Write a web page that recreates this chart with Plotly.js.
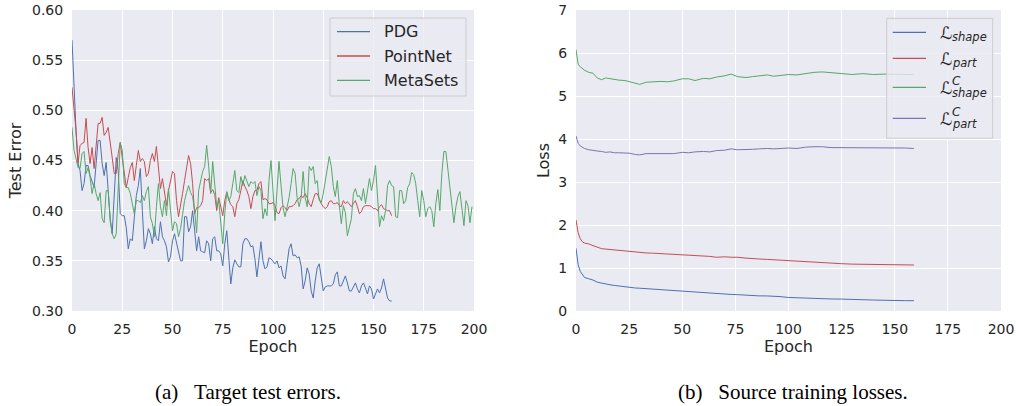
<!DOCTYPE html>
<html>
<head>
<meta charset="utf-8">
<script src="https://cdn.plot.ly/plotly-3.0.1.min.js"></script>
<style>html,body{margin:0;padding:0;background:#fff;}#chart{width:1016px;height:406px;}</style>
</head>
<body>
<div id="chart"></div>
<script>
// ---------- (a) Target test errors (one value per epoch, starting at epoch 0) ----------
const seriesNamesA = ["PDG", "PointNet", "MetaSets"];
const pdgErr = [
0.57,0.52,0.48,0.447,0.44,0.42,0.427,0.445,0.445,0.435,
0.43,0.423,0.447,0.47,0.47,0.447,0.435,0.448,0.42,0.39,
0.377,0.41,0.453,0.44,0.397,0.395,0.395,0.383,0.362,0.372,
0.37,0.393,0.415,0.425,0.442,0.40,0.362,0.37,0.382,0.377,
0.367,0.384,0.372,0.37,0.389,0.374,0.37,0.364,0.349,0.354,
0.37,0.377,0.367,0.357,0.35,0.35,0.394,0.394,0.379,0.384,
0.40,0.38,0.36,0.374,0.36,0.359,0.358,0.37,0.367,0.35,
0.372,0.374,0.36,0.36,0.357,0.345,0.367,0.38,0.353,0.327,
0.343,0.351,0.347,0.344,0.344,0.367,0.372,0.372,0.369,0.364,
0.365,0.352,0.334,0.354,0.369,0.35,0.342,0.344,0.353,0.352,
0.35,0.347,0.35,0.343,0.345,0.335,0.332,0.345,0.362,0.367,
0.355,0.356,0.353,0.354,0.345,0.322,0.33,0.343,0.337,0.32,
0.313,0.33,0.343,0.347,0.335,0.32,0.324,0.325,0.325,0.325,
0.327,0.336,0.339,0.325,0.325,0.33,0.335,0.328,0.32,0.32,
0.325,0.328,0.322,0.318,0.325,0.328,0.323,0.317,0.325,0.322,
0.312,0.318,0.322,0.318,0.323,0.332,0.323,0.313,0.31,0.31
];
const pointnetErr = [
0.523,0.50,0.48,0.447,0.465,0.467,0.468,0.492,0.463,0.447,
0.463,0.442,0.465,0.487,0.487,0.493,0.475,0.478,0.483,0.47,
0.453,0.437,0.437,0.457,0.468,0.453,0.437,0.423,0.433,0.443,
0.448,0.43,0.445,0.46,0.449,0.452,0.449,0.434,0.437,0.45,
0.457,0.449,0.464,0.444,0.422,0.432,0.42,0.405,0.42,0.43,
0.439,0.437,0.41,0.394,0.404,0.417,0.43,0.444,0.455,0.447,
0.427,0.397,0.403,0.403,0.405,0.41,0.432,0.43,0.432,0.418,
0.421,0.416,0.40,0.413,0.404,0.395,0.41,0.418,0.411,0.406,
0.404,0.394,0.407,0.411,0.42,0.43,0.424,0.42,0.414,0.402,
0.414,0.42,0.42,0.427,0.429,0.411,0.412,0.411,0.407,0.407,
0.408,0.405,0.398,0.397,0.403,0.405,0.403,0.40,0.404,0.404,
0.405,0.407,0.411,0.412,0.415,0.413,0.417,0.413,0.407,0.404,
0.411,0.417,0.417,0.412,0.407,0.404,0.402,0.404,0.409,0.41,
0.407,0.407,0.408,0.405,0.404,0.41,0.407,0.409,0.407,0.404,
0.407,0.41,0.404,0.397,0.399,0.404,0.405,0.405,0.405,0.404,
0.402,0.402,0.40,0.404,0.406,0.402,0.401,0.40,0.40,0.395
];
const metasetsErr = [
0.483,0.46,0.452,0.443,0.442,0.457,0.459,0.437,0.443,0.433,
0.417,0.427,0.417,0.41,0.418,0.392,0.388,0.42,0.42,0.393,
0.377,0.372,0.377,0.42,0.468,0.46,0.427,0.423,0.423,0.417,
0.408,0.397,0.41,0.41,0.408,0.415,0.41,0.419,0.424,0.394,
0.387,0.374,0.404,0.427,0.404,0.394,0.41,0.395,0.422,0.404,
0.38,0.389,0.387,0.374,0.382,0.396,0.41,0.418,0.425,0.418,
0.414,0.40,0.378,0.42,0.429,0.439,0.444,0.465,0.444,0.417,
0.449,0.427,0.404,0.41,0.39,0.367,0.397,0.419,0.41,0.414,
0.427,0.44,0.42,0.418,0.434,0.425,0.435,0.43,0.424,0.429,
0.427,0.429,0.415,0.424,0.42,0.392,0.402,0.395,0.43,0.45,
0.423,0.39,0.42,0.449,0.425,0.403,0.394,0.403,0.413,0.427,
0.442,0.437,0.413,0.404,0.413,0.439,0.413,0.404,0.444,0.44,
0.444,0.427,0.43,0.41,0.408,0.417,0.43,0.444,0.454,0.444,
0.424,0.414,0.43,0.405,0.387,0.405,0.398,0.375,0.385,0.392,
0.417,0.422,0.414,0.415,0.41,0.422,0.407,0.418,0.432,0.42,
0.43,0.445,0.41,0.384,0.395,0.39,0.40,0.425,0.43,0.425,
0.424,0.394,0.393,0.42,0.42,0.407,0.41,0.423,0.427,0.438,
0.436,0.427,0.41,0.394,0.42,0.41,0.394,0.402,0.404,0.40,
0.384,0.407,0.421,0.40,0.437,0.459,0.459,0.44,0.42,0.404,
0.388,0.404,0.414,0.419,0.404,0.385,0.41,0.405,0.388,0.404
];

// ---------- (b) Source training losses (read at these epochs) ----------
const lossEpochs = [0,1,2,3,4,6,8,10,12,14,16,18,20,23,25,28,30,33,36,40,43,46,50,53,56,60,63,66,70,73,76,80,83,86,90,93,96,100,104,108,112,116,120,125,130,135,140,145,150,155,159];
const lossShape = [1.46,1.08,0.92,0.84,0.78,0.75,0.72,0.67,0.645,0.625,0.61,0.595,0.58,0.565,0.55,0.535,0.53,0.52,0.505,0.49,0.478,0.465,0.45,0.44,0.43,0.415,0.41,0.40,0.395,0.385,0.38,0.365,0.355,0.352,0.35,0.345,0.335,0.315,0.305,0.30,0.292,0.285,0.28,0.277,0.265,0.26,0.255,0.25,0.24,0.24,0.24];
const lossPart = [2.12,1.82,1.68,1.61,1.58,1.56,1.52,1.48,1.45,1.44,1.43,1.42,1.40,1.39,1.385,1.37,1.36,1.35,1.345,1.335,1.33,1.32,1.31,1.30,1.29,1.28,1.27,1.25,1.26,1.25,1.25,1.23,1.215,1.21,1.20,1.19,1.185,1.18,1.165,1.15,1.135,1.12,1.11,1.10,1.09,1.085,1.08,1.075,1.07,1.07,1.07];
const lossShapeC = [6.08,5.74,5.68,5.63,5.6,5.55,5.53,5.42,5.38,5.42,5.40,5.39,5.37,5.36,5.33,5.30,5.27,5.32,5.33,5.34,5.33,5.35,5.40,5.40,5.36,5.41,5.40,5.44,5.47,5.51,5.45,5.43,5.45,5.46,5.49,5.46,5.47,5.50,5.49,5.52,5.55,5.56,5.54,5.52,5.50,5.52,5.50,5.51,5.50,5.50,5.50];
const lossPartC = [4.07,3.90,3.84,3.80,3.78,3.75,3.73,3.72,3.71,3.69,3.70,3.68,3.68,3.67,3.67,3.64,3.63,3.66,3.66,3.66,3.67,3.66,3.69,3.68,3.70,3.71,3.70,3.73,3.74,3.77,3.75,3.75,3.76,3.77,3.78,3.77,3.78,3.79,3.78,3.81,3.82,3.82,3.80,3.80,3.80,3.80,3.79,3.79,3.79,3.79,3.78];

const tickValsA = [0.30,0.35,0.40,0.45,0.50,0.55,0.60];
const tickValsB = [0,1,2,3,4,5,6,7];
const epochTicks = [0,25,50,75,100,125,150,175,200];
const captionA = "(a)\u00a0\u00a0\u00a0Target test errors.";
const captionB = "(b)\u00a0\u00a0\u00a0Source training losses.";

// ---------- styling ----------
const C = {blue:"#4c72b0", red:"#c44e52", green:"#55a868", purple:"#8172b2"};
const TXT = "#262626";
const FONT = "DejaVu Sans";
const W = 1016, H = 406;
const P = px => px / W;          // pixel -> paper x
const Q = py => (H - py) / H;    // pixel -> paper y

const idx = arr => arr.map((_, i) => i);

const traces = [
  {x: idx(pdgErr), y: pdgErr, name: seriesNamesA[0], mode: "lines", line: {color: C.blue, width: 1}, xaxis: "x", yaxis: "y"},
  {x: idx(pointnetErr), y: pointnetErr, name: seriesNamesA[1], mode: "lines", line: {color: C.red, width: 1}, xaxis: "x", yaxis: "y"},
  {x: idx(metasetsErr), y: metasetsErr, name: seriesNamesA[2], mode: "lines", line: {color: C.green, width: 1}, xaxis: "x", yaxis: "y"},
  {x: lossEpochs, y: lossShape, name: "L_shape", mode: "lines", line: {color: C.blue, width: 1}, xaxis: "x2", yaxis: "y2"},
  {x: lossEpochs, y: lossPart, name: "L_part", mode: "lines", line: {color: C.red, width: 1}, xaxis: "x2", yaxis: "y2"},
  {x: lossEpochs, y: lossShapeC, name: "L^C_shape", mode: "lines", line: {color: C.green, width: 1}, xaxis: "x2", yaxis: "y2"},
  {x: lossEpochs, y: lossPartC, name: "L^C_part", mode: "lines", line: {color: C.purple, width: 1}, xaxis: "x2", yaxis: "y2"}
];

const axisCommon = {
  showgrid: true, gridcolor: "#ffffff", gridwidth: 1, zeroline: false, showline: false,
  ticks: "outside", ticklen: 5, tickcolor: "rgba(0,0,0,0)",
  tickfont: {family: FONT, size: 14, color: TXT}
};
const yDom = [Q(311), Q(10)];

const layout = {
  width: W, height: H,
  margin: {l: 0, r: 0, t: 0, b: 0},
  paper_bgcolor: "#ffffff", plot_bgcolor: "#eaeaf2",
  font: {family: FONT, color: TXT},
  showlegend: false,
  xaxis: Object.assign({}, axisCommon, {domain: [P(72), P(474)], range: [0, 200], tickvals: epochTicks, anchor: "y",
    title: {text: "Epoch", font: {family: FONT, size: 16, color: TXT}, standoff: 0}}),
  yaxis: Object.assign({}, axisCommon, {domain: yDom, range: [0.30, 0.60], tickvals: tickValsA, tickformat: ".2f", anchor: "x",
    title: {text: "Test Error", font: {family: FONT, size: 16, color: TXT}, standoff: 6}}),
  xaxis2: Object.assign({}, axisCommon, {domain: [P(576), P(1001)], range: [0, 200], tickvals: epochTicks, anchor: "y2",
    title: {text: "Epoch", font: {family: FONT, size: 16, color: TXT}, standoff: 0}}),
  yaxis2: Object.assign({}, axisCommon, {domain: yDom, range: [0, 7], tickvals: tickValsB, anchor: "x2",
    title: {text: "Loss", font: {family: FONT, size: 16, color: TXT}, standoff: 4}}),
  shapes: [],
  annotations: [
    {text: captionA, x: P(248), y: Q(391.5), xref: "paper", yref: "paper", xanchor: "center", yanchor: "middle", showarrow: false,
     font: {family: "Liberation Serif", size: 21, color: "#000"}},
    {text: captionB, x: P(793), y: Q(391.5), xref: "paper", yref: "paper", xanchor: "center", yanchor: "middle", showarrow: false,
     font: {family: "Liberation Serif", size: 21, color: "#000"}}
  ]
};

// ---------- legends (drawn as frames + sample lines + real text) ----------
function frame(x0, x1, y0, y1) {
  layout.shapes.push({type: "rect", xref: "paper", yref: "paper", x0: P(x0), x1: P(x1), y0: Q(y1), y1: Q(y0),
    fillcolor: "rgba(234,234,242,0.8)", line: {color: "#cccccc", width: 1}, layer: "above"});
}
function sample(color, x0, x1, y) {
  layout.shapes.push({type: "line", xref: "paper", yref: "paper", x0: P(x0), x1: P(x1), y0: Q(y), y1: Q(y),
    line: {color: color, width: 1.3}, layer: "above"});
}
function label(text, x, y, size) {
  layout.annotations.push({text: text, x: P(x), y: Q(y), xref: "paper", yref: "paper", xanchor: "left", yanchor: "middle",
    showarrow: false, font: {family: FONT, size: size, color: TXT}});
}

// panel (a) legend
frame(330, 466, 18, 96);
const legA = [{c: C.blue, y: 31.7}, {c: C.red, y: 56}, {c: C.green, y: 80.3}];
legA.forEach((e, i) => { sample(e.c, 337, 370, e.y); label(seriesNamesA[i], 382, e.y, 16); });

// panel (b) legend: script L with stacked super/subscripts
frame(886.7, 992.7, 18.3, 138.3);
const legB = [
  {color: C.blue,   sub: "shape", sup: null, ly: 32.3, Ly: 33.3, suby: 37.5, supy: 0},
  {color: C.red,    sub: "part",  sup: null, ly: 58.3, Ly: 59.2, suby: 63.0, supy: 0},
  {color: C.green,  sub: "shape", sup: "C",  ly: 87.3, Ly: 87.5, suby: 93.0, supy: 81.3},
  {color: C.purple, sub: "part",  sup: "C",  ly: 118.3, Ly: 118.8, suby: 124.0, supy: 112.2}
];
legB.forEach(e => {
  sample(e.color, 892.7, 926, e.ly);
  label("ℒ", 938, e.Ly, 17);
  label("<i>" + e.sub + "</i>", 949.5, e.suby, 11.5);
  if (e.sup) label("<i>" + e.sup + "</i>", 949.5, e.supy, 12);
});

Plotly.newPlot("chart", traces, layout, {displayModeBar: false, staticPlot: true});
</script>
</body>
</html>
